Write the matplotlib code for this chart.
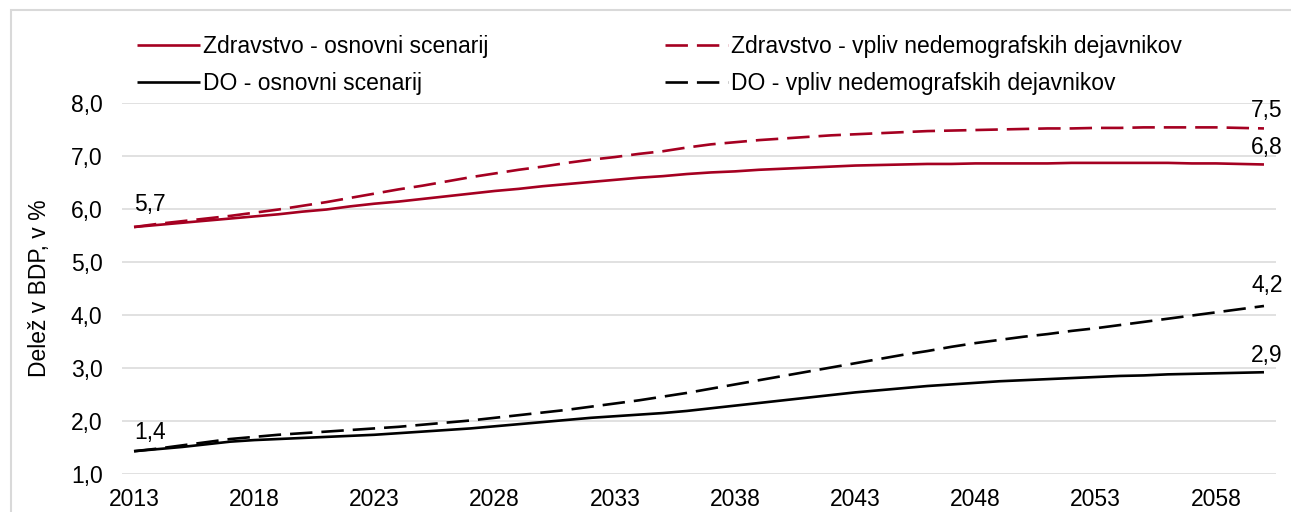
import matplotlib
matplotlib.use("Agg")
import matplotlib.pyplot as plt
from matplotlib.patches import Rectangle
from matplotlib.ticker import FuncFormatter, FixedLocator

plt.rcParams['font.family'] = ['Liberation Sans', 'DejaVu Sans']

years = list(range(2013, 2061))

zdr_osn = [5.66, 5.70, 5.74, 5.78, 5.82, 5.86, 5.90, 5.95, 5.99, 6.05,
           6.10, 6.14, 6.19, 6.24, 6.29, 6.34, 6.38, 6.43, 6.47, 6.51,
           6.55, 6.59, 6.62, 6.66, 6.69, 6.71, 6.74, 6.76, 6.78, 6.80,
           6.82, 6.83, 6.84, 6.85, 6.85, 6.86, 6.86, 6.86, 6.86, 6.87,
           6.87, 6.87, 6.87, 6.87, 6.86, 6.86, 6.85, 6.84]

zdr_vpl = [5.66, 5.72, 5.77, 5.82, 5.87, 5.93, 5.99, 6.06, 6.13, 6.21,
           6.29, 6.37, 6.44, 6.52, 6.60, 6.67, 6.74, 6.80, 6.87, 6.93,
           6.98, 7.04, 7.09, 7.16, 7.22, 7.26, 7.30, 7.33, 7.36, 7.39,
           7.41, 7.43, 7.45, 7.47, 7.48, 7.49, 7.50, 7.51, 7.52, 7.52,
           7.53, 7.53, 7.54, 7.54, 7.54, 7.54, 7.53, 7.52]

do_osn = [1.43, 1.47, 1.51, 1.56, 1.61, 1.64, 1.66, 1.68, 1.70, 1.72,
          1.74, 1.77, 1.80, 1.83, 1.86, 1.90, 1.94, 1.98, 2.02, 2.06,
          2.09, 2.12, 2.15, 2.19, 2.24, 2.29, 2.34, 2.39, 2.44, 2.49,
          2.54, 2.58, 2.62, 2.66, 2.69, 2.72, 2.75, 2.77, 2.79, 2.81,
          2.83, 2.85, 2.86, 2.88, 2.89, 2.90, 2.91, 2.92]

do_vpl = [1.43, 1.48, 1.54, 1.60, 1.66, 1.70, 1.74, 1.77, 1.80, 1.83,
          1.86, 1.89, 1.93, 1.97, 2.01, 2.06, 2.11, 2.16, 2.21, 2.27,
          2.33, 2.39, 2.46, 2.53, 2.61, 2.69, 2.77, 2.85, 2.93, 3.01,
          3.09, 3.17, 3.25, 3.32, 3.40, 3.47, 3.53, 3.59, 3.64, 3.70,
          3.75, 3.81, 3.87, 3.93, 3.99, 4.05, 4.11, 4.17]

labels = ["Zdravstvo - osnovni scenarij", "DO - osnovni scenarij",
          "Zdravstvo - vpliv nedemografskih dejavnikov",
          "DO - vpliv nedemografskih dejavnikov"]
tick_years = list(range(2013, 2059, 5))
y_ticks = [1, 2, 3, 4, 5, 6, 7, 8]
ylabel = "Delež v BDP, v %"

RED = "#A50021"
FS = 16.5
W, H = 1291, 512
fig = plt.figure(figsize=(W / 100, H / 100), dpi=100)
ax = fig.add_axes([122 / W, 1 - 474 / H, (1276 - 122) / W, (474 - 103) / H])

# outer frame (partially visible)
fig.patches.append(Rectangle((10.5 / W, -0.2), 1.5, 0.2 + 1 - 9.5 / H,
                             transform=fig.transFigure, fill=False,
                             edgecolor="#d9d9d9", lw=1.5, zorder=0))

lw = 1.9
dash = (0, (8.5, 3.4))
l1, = ax.plot(years, zdr_osn, color=RED, lw=lw, solid_capstyle='butt')
l2, = ax.plot(years, do_osn, color="black", lw=lw, solid_capstyle='butt')
l3, = ax.plot(years, zdr_vpl, color=RED, lw=lw, linestyle=dash, dash_capstyle='butt')
l4, = ax.plot(years, do_vpl, color="black", lw=lw, linestyle=dash, dash_capstyle='butt')

ax.set_xlim(2012.5, 2060.5)
ax.set_ylim(1, 8)
ax.yaxis.set_major_locator(FixedLocator(y_ticks))
ax.yaxis.set_major_formatter(FuncFormatter(lambda v, p: f"{v:.1f}".replace('.', ',')))
ax.xaxis.set_major_locator(FixedLocator(tick_years))
ax.xaxis.set_major_formatter(FuncFormatter(lambda v, p: f"{int(round(v))}"))
ax.grid(axis='y', color="#d9d9d9", lw=1.1)
ax.set_axisbelow(True)
for s in ax.spines.values():
    s.set_visible(False)
ax.tick_params(axis='both', length=0, labelsize=FS, colors='black')
ax.tick_params(axis='x', pad=10)
ax.tick_params(axis='y', pad=14)
ax.set_ylabel(ylabel, fontsize=FS, labelpad=14)

def fmt(v):
    return f"{v:.1f}".replace('.', ',')

# data labels
ax.annotate(fmt(zdr_osn[0]), (years[0], zdr_osn[0]), xytext=(11.5, 16.5),
            textcoords='offset points', ha='center', va='center', fontsize=FS)
ax.annotate(fmt(do_osn[0]), (years[0], do_osn[0]), xytext=(11.5, 13.5),
            textcoords='offset points', ha='center', va='center', fontsize=FS)
for ser, dy in [(zdr_vpl, 13), (zdr_osn, 12.5), (do_vpl, 14.5), (do_osn, 12)]:
    ax.annotate(fmt(ser[-1]), (years[-1], ser[-1]), xytext=(2, dy),
                textcoords='offset points', ha='center', va='center', fontsize=FS)

leg = fig.legend([l1, l2, l3, l4], labels, ncol=2, loc='upper left',
                 bbox_to_anchor=(137 / W, 1 - 35 / H), frameon=False,
                 fontsize=FS, handlelength=2.75, handletextpad=0.13,
                 columnspacing=7.7, labelspacing=0.62, borderpad=0, borderaxespad=0)

fig.savefig("out.png", dpi=100)
